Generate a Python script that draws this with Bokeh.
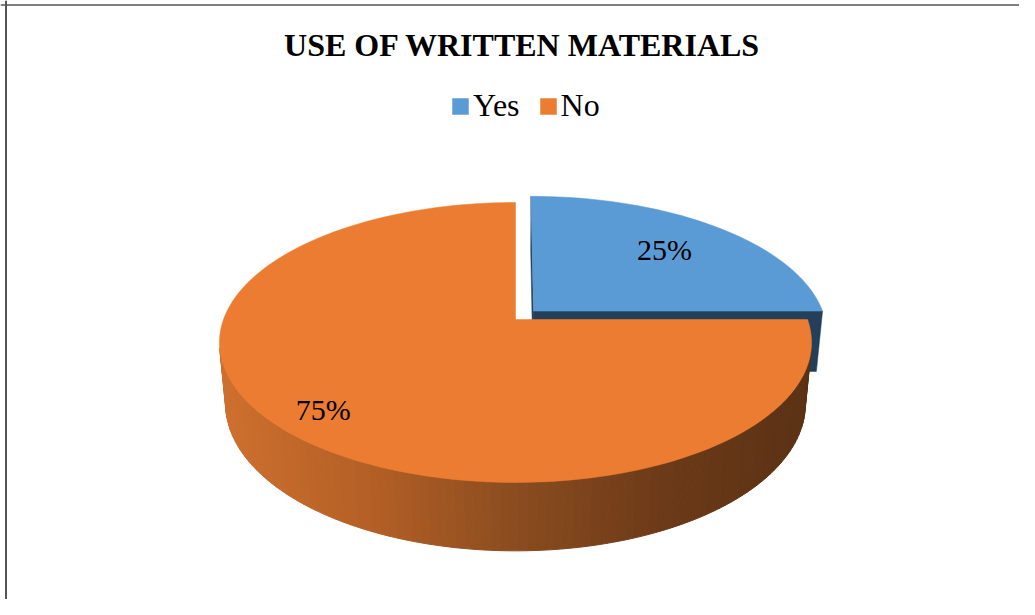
import numpy as np
from bokeh.plotting import figure
from bokeh.models import Range1d, Label, Span, Legend, LegendItem
from bokeh.embed import file_html
from bokeh.resources import INLINE

# ---- data ----
categories = ["Yes", "No"]
shares = [25, 75]
top_colors = ["#5B9BD5", "#EB7C31"]
cut_colors = ["#243F5A", "#7A4119"]
pct_labels = ["25%", "75%"]
title_text = "USE OF WRITTEN MATERIALS"

# ---- 3D layout (styling / geometry) ----
CX, CY = 515.0, 319.0
F = 1574.0
L = 5.39
PHI = np.radians(27.8)
THICK = 0.24
EXPLODE = [0.088, 0.0]
LABEL_R = [0.70, 0.84]
START = 90.0  # 12 o'clock, clockwise

SP, CP = np.sin(PHI), np.cos(PHI)
CAM = np.array([0.0, L * SP, -L * CP])


def project(X, Y, Z):
    X, Y, Z = np.asarray(X, float), np.asarray(Y, float), np.asarray(Z, float)
    depth = L - Y * SP + Z * CP
    sx = CX + F * X / depth
    sy = CY - F * (Y * CP + Z * SP) / depth
    return sx, sy


def wall_color(sx):
    stops_x = [0.0, 0.25, 0.5, 0.75, 1.0]
    stops_c = np.array([[206, 112, 46], [180, 96, 38], [139, 76, 31],
                        [108, 58, 24], [90, 49, 20]], float)
    t = np.clip((sx - 219.0) / 592.0, 0, 1)
    rgb = [np.interp(t, stops_x, stops_c[:, k]) for k in range(3)]
    return "#%02x%02x%02x" % tuple(int(round(v)) for v in rgb)


p = figure(width=1019, height=599, output_backend="svg", toolbar_location=None,
           x_range=Range1d(0, 1019), y_range=Range1d(599, 0),
           x_axis_location=None, y_axis_location=None, min_border=0,
           outline_line_color=None, background_fill_color="white",
           border_fill_color="white")
p.grid.visible = False

total = float(sum(shares))
cum = np.concatenate([[0.0], np.cumsum(shares)]) / total
top_renderers = []
for i, cat in enumerate(categories):
    a1 = np.radians(START - cum[i] * 360.0)      # start angle
    a2 = np.radians(START - cum[i + 1] * 360.0)  # end angle (clockwise)
    mid = 0.5 * (a1 + a2)
    ox, oz = EXPLODE[i] * np.cos(mid), EXPLODE[i] * np.sin(mid)
    th = np.linspace(a1, a2, max(8, int(abs(a2 - a1) / np.radians(1.5))))

    # outer wall (front-facing facets only)
    wx, wy, wc = [], [], []
    for k in range(len(th) - 1):
        t0, t1 = th[k], th[k + 1]
        tm = 0.5 * (t0 + t1)
        P = np.array([ox + np.cos(tm), 0.0, oz + np.sin(tm)])
        n = np.array([np.cos(tm), 0.0, np.sin(tm)])
        if np.dot(n, CAM - P) <= 0:
            continue
        Xs = [ox + np.cos(t0), ox + np.cos(t1), ox + np.cos(t1), ox + np.cos(t0)]
        Zs = [oz + np.sin(t0), oz + np.sin(t1), oz + np.sin(t1), oz + np.sin(t0)]
        Ys = [0, 0, -THICK, -THICK]
        sx, sy = project(Xs, Ys, Zs)
        wx.append(list(sx)); wy.append(list(sy))
        wc.append(wall_color(sx.mean()) if i == 1 else cut_colors[i])
    if wx:
        p.patches(wx, wy, fill_color=wc, line_color=wc, line_width=1)

    # radial cut faces
    for ang, sgn in ((a1, 1), (a2, -1)):
        n = sgn * np.array([-np.sin(ang), 0.0, np.cos(ang)])
        P = np.array([ox + 0.5 * np.cos(ang), -THICK / 2, oz + 0.5 * np.sin(ang)])
        if np.dot(n, CAM - P) <= 1e-9:
            continue
        Xs = [ox, ox + np.cos(ang), ox + np.cos(ang), ox]
        Zs = [oz, oz + np.sin(ang), oz + np.sin(ang), oz]
        Ys = [0, 0, -THICK, -THICK]
        sx, sy = project(Xs, Ys, Zs)
        p.patch(list(sx), list(sy), fill_color=cut_colors[i],
                line_color=cut_colors[i], line_width=0.5)

    # top face
    Xs = np.concatenate([[ox], ox + np.cos(th)])
    Zs = np.concatenate([[oz], oz + np.sin(th)])
    sx, sy = project(Xs, np.zeros_like(Xs), Zs)
    r = p.patch(list(sx), list(sy), fill_color=top_colors[i],
                line_color=top_colors[i], line_width=0.5)
    top_renderers.append(r)

    # percentage label
    lx, ly = project(ox + LABEL_R[i] * np.cos(mid), 0.0, oz + LABEL_R[i] * np.sin(mid))
    p.add_layout(Label(x=float(lx), y=float(ly), text=pct_labels[i],
                       text_font="Liberation Serif", text_font_size="30px",
                       text_color="black", text_align="center",
                       text_baseline="middle"))

# title
p.add_layout(Label(x=522, y=44, text=title_text, text_font="Liberation Serif",
                   text_font_style="bold", text_font_size="32px",
                   text_color="black", text_align="center",
                   text_baseline="middle"))

# legend
legend = Legend(items=[LegendItem(label=c, renderers=[r])
                       for c, r in zip(categories, top_renderers)],
                orientation="horizontal", location=(450, 475),
                glyph_width=20, glyph_height=20, label_standoff=3, spacing=18,
                padding=0, margin=0, border_line_color=None,
                background_fill_alpha=0,
                label_text_font="Liberation Serif", label_text_font_size="32px",
                label_text_color="black")
p.add_layout(legend, "center")

# frame border (left and top)
p.add_layout(Span(location=5.5, dimension="height", line_color="#555555", line_width=2))
p.add_layout(Span(location=4.5, dimension="width", line_color="#555555", line_width=1.5))

open("out.html", "w").write(file_html(p, INLINE))
